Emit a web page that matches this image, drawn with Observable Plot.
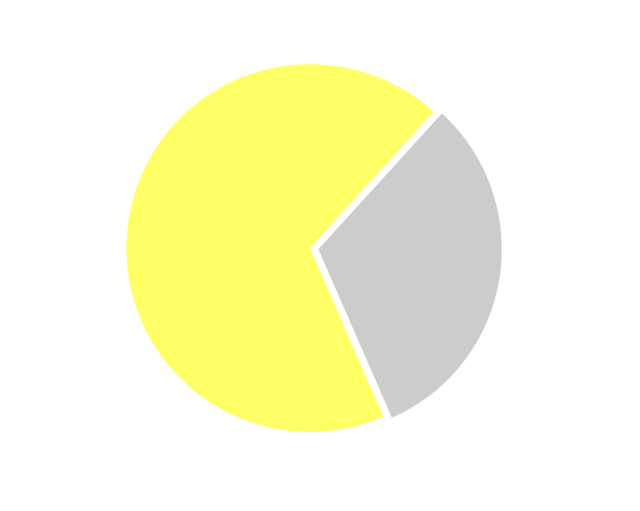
<!DOCTYPE html>
<html>
<head>
<meta charset="utf-8">
<script src="https://cdn.jsdelivr.net/npm/d3@7"></script>
<script src="https://cdn.jsdelivr.net/npm/@observablehq/plot@0.6"></script>
<style>
  html, body { margin: 0; padding: 0; background: #fff; }
</style>
</head>
<body>
<div id="chart"></div>
<script>
// Data
const categories = ["Part A", "Part B"];
const values = [68.3, 31.7];
const colors = ["#ffff66", "#cccccc"];

// Layout
const W = 640, H = 511;
const cx = 313.6, cy = 248.2, R = 184.3;   // pixel center / radius
const explode = 3.85 / R;                   // explode offset in radius units
const startDeg = 156.4;

const pie = d3.pie().sort(null).value(d => d.value)
  .startAngle(startDeg * Math.PI / 180)
  .endAngle(startDeg * Math.PI / 180 + 2 * Math.PI);

const arcs = pie(categories.map((name, i) => ({name, value: values[i]})));

// Build slice outlines (points along each arc) in unit-radius coordinates
const points = [];
for (const a of arcs) {
  const mid = (a.startAngle + a.endAngle) / 2;
  const ox = explode * Math.sin(mid), oy = explode * Math.cos(mid);
  points.push({name: a.data.name, x: ox, y: oy});
  const n = Math.max(2, Math.ceil((a.endAngle - a.startAngle) / (Math.PI / 360)));
  for (let k = 0; k <= n; ++k) {
    const t = a.startAngle + (a.endAngle - a.startAngle) * k / n;
    points.push({name: a.data.name, x: ox + Math.sin(t), y: oy + Math.cos(t)});
  }
  points.push({name: a.data.name, x: ox, y: oy});
}

const chart = Plot.plot({
  width: W,
  height: H,
  margin: 0,
  x: {domain: [-1, 1], range: [cx - R, cx + R], axis: null},
  y: {domain: [-1, 1], range: [cy + R, cy - R], axis: null},
  color: {domain: categories, range: colors},
  marks: [
    Plot.line(points, {
      x: "x", y: "y", z: "name",
      fill: "name",
      stroke: "white",
      strokeWidth: 1,
      strokeLinejoin: "miter"
    })
  ]
});
document.getElementById("chart").appendChild(chart);
</script>
</body>
</html>
